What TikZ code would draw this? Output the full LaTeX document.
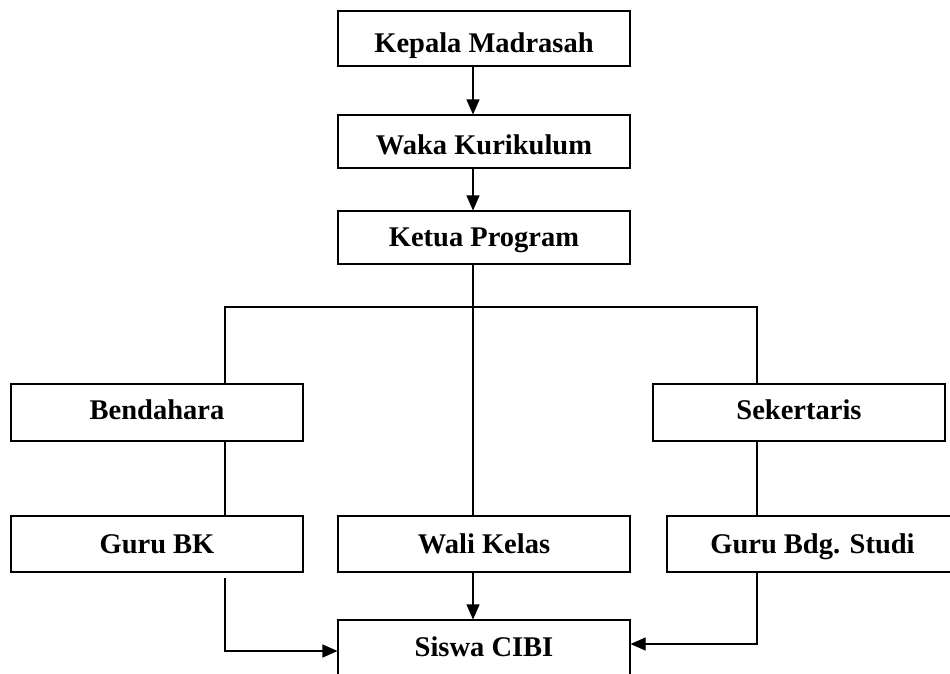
\documentclass[tikz,border=0pt]{standalone}
\usepackage{fontspec}
\setmainfont{Liberation Serif}
\usetikzlibrary{arrows.meta,calc}
\tikzset{
  box/.style={draw, line width=1.1pt, minimum width=292pt, inner sep=0pt,
    text height=18.9pt, text depth=0pt,
    font=\fontsize{28.5}{34}\selectfont\bfseries},
  conn/.style={line width=1.1pt},
  arr/.style={conn, -{Triangle[length=15pt,width=13pt]}}
}
\begin{document}
\begin{tikzpicture}[x=1pt,y=-1pt]
\useasboundingbox (0,0) rectangle (950,673);
\clip (0,0) rectangle (950,673);
\node[box, minimum height=55pt] (kepala) at (484,38.5) {\raisebox{-5pt}{Kepala Madrasah}};
\node[box, minimum height=53pt] (waka) at (484,141.5) {\raisebox{-4pt}{Waka Kurikulum}};
\node[box, minimum height=53pt] (ketua) at (484,237.5) {Ketua Program};
\node[box, minimum height=57pt] (bend) at (157,412.5) {\raisebox{2pt}{Bendahara}};
\node[box, minimum height=57pt] (sek) at (799,412.5) {\raisebox{2pt}{Sekertaris}};
\node[box, minimum height=56pt] (gbk) at (157,544) {Guru BK};
\node[box, minimum height=56pt] (wali) at (484,544) {Wali Kelas};
\node[box, minimum height=56pt, minimum width=291pt] (gbs) at (812.5,544) {Guru Bdg. Studi};
\node[box, minimum height=56pt] (siswa) at (484,648) {\raisebox{1pt}{Siswa CIBI}};
\coordinate (cx) at (473,0);
\coordinate (busL) at (225,307);
\coordinate (busR) at (757,307);
\draw[arr] (kepala.south -| cx) -- (waka.north -| cx);
\draw[arr] (waka.south -| cx) -- (ketua.north -| cx);
\draw[conn] (ketua.south -| cx) -- (wali.north -| cx);
\draw[conn] (bend.north -| busL) -- (busL) -- (busR) -- (sek.north -| busR);
\draw[conn] (bend.south -| busL) -- (gbk.north -| busL);
\draw[conn] (sek.south -| busR) -- (gbs.north -| busR);
\draw[arr] (wali.south -| cx) -- (siswa.north -| cx);
\draw[arr] ([yshift=-5pt]gbk.south -| busL) |- ([yshift=-3pt]siswa.west);
\draw[arr] (gbs.south -| busR) |- ([yshift=4pt]siswa.east);
\end{tikzpicture}
\end{document}
